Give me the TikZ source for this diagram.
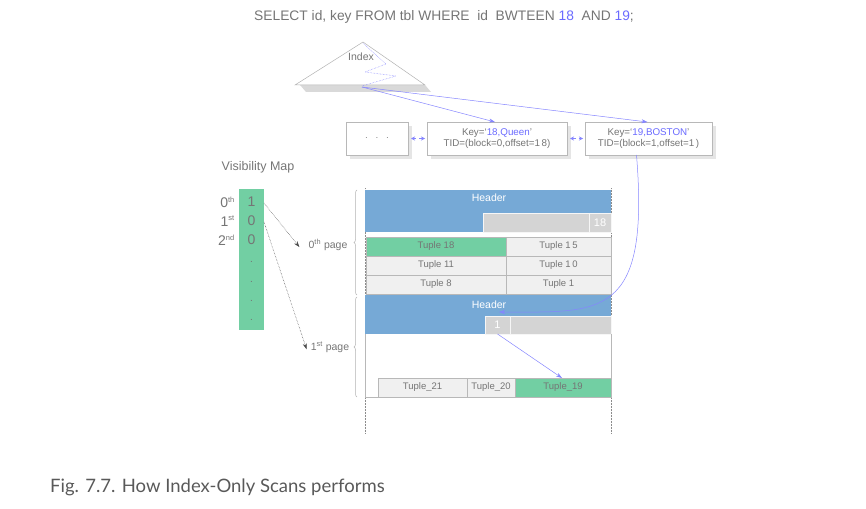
\documentclass[tikz,border=0pt]{standalone}
\usepackage{fontspec}
\setmainfont{Liberation Sans}
\newfontfamily\capfont{Lato}
\usetikzlibrary{arrows.meta,shadows,decorations.pathreplacing}
\definecolor{txt}{HTML}{757575}
\definecolor{bl}{HTML}{6B6BFF}
\definecolor{hdr}{HTML}{76A9D6}
\definecolor{grn}{HTML}{72CFA3}
\definecolor{lg}{HTML}{D4D4D4}
\definecolor{tp}{HTML}{F0F0F0}
\definecolor{bd}{HTML}{B8B8B8}
\definecolor{arr}{HTML}{8585FF}
\begin{document}
\begin{tikzpicture}[x=1pt,y=-1pt,
  rect/.style={inner sep=0pt, outer sep=0pt, anchor=north west},
  keybox/.style={rect, draw=bd, fill=white, align=center, text=txt,
    font=\fontsize{9.8}{11.5}\selectfont,
    general shadow={fill=black!10, shadow xshift=4pt, shadow yshift=-4pt}},
  hdrbox/.style={rect, fill=hdr},
  graybar/.style={rect, fill=lg, draw=white!80!lg, text=white, font=\fontsize{11}{12}\selectfont},
  tuple/.style={rect, fill=tp, draw=bd, text=txt, font=\fontsize{9.5}{11}\selectfont},
  tuplegr/.style={tuple, fill=grn},
  hdrtxt/.style={text=white, font=\fontsize{10.5}{12}\selectfont, inner sep=0pt},
  lbl/.style={text=txt, inner sep=0pt},
  blarrow/.style={draw=arr, line width=0.5pt, -{Stealth[length=6pt,width=4pt]}},
  dblarrow/.style={draw=arr, line width=0.6pt, dashed, {Stealth[length=4pt,width=4pt]}-{Stealth[length=4pt,width=4pt]}},
  dotarrow/.style={draw=black!70, line width=0.5pt, densely dotted, -{Stealth[length=6pt,width=4pt]}},
  pagebrace/.style={draw=black!30, line width=0.5pt, decorate, decoration={brace, amplitude=3pt}},
  edge/.style={draw=bd, line width=0.5pt},
  dotedge/.style={draw=black!45, line width=0.5pt, densely dotted}
]
\useasboundingbox (0,0) rectangle (866,508);

% title
\node[lbl, font=\fontsize{13.8}{15}\selectfont] (title) at (444,17)
  {SELECT id, key FROM tbl WHERE~~id~~BWTEEN \textcolor{bl}{18}~~AND \textcolor{bl}{19};};

% index triangle
\fill[black!15] (300,85) -- (425,85) -- (431,92) -- (306,92) -- cycle;
\draw[black!30, fill=white, line width=0.5pt] (295,85) -- (363,42) -- (425,85) -- cycle;
\node[lbl, font=\fontsize{10.5}{12}\selectfont] (idx) at (361,57) {Index};
\draw[arr, densely dotted, line width=0.5pt] (363,43) -- (386,64) -- (365,72) -- (396,76) -- (362,86);
\coordinate (ibase) at (362,87);

% key boxes
\node[keybox, minimum width=62, minimum height=33] (dots) at (346,122) {$\cdot\ \ \cdot\ \ \cdot$};
\node[keybox, minimum width=140, minimum height=33] (k18) at (427,122)
  {Key=`\textcolor{bl}{18,Queen}'\\TID=(block=0,offset=1\,8)};
\node[keybox, minimum width=127, minimum height=33] (k19) at (585,122)
  {Key=`\textcolor{bl}{19,BOSTON}'\\TID=(block=1,offset=1\,)};

\draw[blarrow] (ibase) -- ([xshift=-2pt]k18.north);
\draw[blarrow] (ibase) -- ([xshift=-1pt]k19.north);
\draw[dblarrow] ([xshift=3pt]dots.east) -- ([xshift=-2pt]k18.west);
\draw[dblarrow] ([xshift=3pt]k18.east) -- ([xshift=-2pt]k19.west);

% visibility map
\node[lbl, font=\fontsize{12.5}{14}\selectfont] (vmt) at (258,167) {Visibility Map};
\node[rect, fill=grn, minimum width=25, minimum height=141] (vm) at (239,189) {};
\foreach \v/\y [count=\i] in {1/202,0/221,0/240} {
  \node[lbl, font=\fontsize{14}{15}\selectfont] (v\i) at (251.5,\y) {\v};
}
\foreach \y [count=\i] in {262,282,301,320} {
  \node[lbl, font=\fontsize{10}{12}\selectfont] (d\i) at (251.5,\y) {.};
}
\node[lbl, anchor=east, font=\fontsize{14}{15}\selectfont] (o0) at (235,202) {0\textsuperscript{\fontsize{7.5}{8}\selectfont th}};
\node[lbl, anchor=east, font=\fontsize{14}{15}\selectfont] (o1) at (235,221) {1\textsuperscript{\fontsize{7.5}{8}\selectfont st}};
\node[lbl, anchor=east, font=\fontsize{14}{15}\selectfont] (o2) at (235,240) {2\textsuperscript{\fontsize{7.5}{8}\selectfont nd}};

\node[lbl, font=\fontsize{10.5}{12}\selectfont] (p0lab) at (328,245) {0\textsuperscript{th} page};
\node[lbl, font=\fontsize{10.5}{12}\selectfont] (p1lab) at (330,347) {1\textsuperscript{st} page};
\coordinate (vm1) at (264,203);
\coordinate (vm2) at (264,222);
\draw[dotarrow] (vm1) -- ([xshift=-9pt,yshift=-8pt]p0lab.north west);
\draw[dotarrow] (vm2) -- ([xshift=-4pt,yshift=-8pt]p1lab.north west);

% braces
\draw[pagebrace] (357,295) -- (357,190);
\draw[pagebrace] (357,397) -- (357,297);

% page borders (dotted)
\draw[dotedge] (365,188) -- (365,433);
\draw[dotedge] (611,188) -- (611,433);

% page 0
\node[hdrbox, minimum width=246, minimum height=42] (h0) at (365,190) {};
\node[hdrtxt] (h0t) at (489,198) {Header};
\node[graybar, minimum width=106, minimum height=19] (b0) at (483,213) {};
\node[graybar, minimum width=22, minimum height=19] (c0) at (589,213) {18};
\node[tuplegr, minimum width=140, minimum height=19] (t18) at (366,237) {Tuple 18};
\node[tuple, minimum width=105, minimum height=19] (t15) at (506,237) {Tuple 1\,5};
\node[tuple, minimum width=140, minimum height=19] (t11) at (366,256) {Tuple 11};
\node[tuple, minimum width=105, minimum height=19] (t10) at (506,256) {Tuple 1\,0};
\node[tuple, minimum width=140, minimum height=19] (t8) at (366,275) {Tuple 8};
\node[tuple, minimum width=105, minimum height=19] (t1) at (506,275) {Tuple 1};

% page 1
\node[hdrbox, minimum width=246, minimum height=39] (h1) at (365,295) {};
\node[hdrtxt] (h1t) at (489,305) {Header};
\node[graybar, minimum width=25, minimum height=18] (c1) at (485,316) {1};
\node[graybar, minimum width=101, minimum height=18] (b1) at (510,316) {};
\draw[edge] (h1.south west) -- (365,397) -- (378,397);
\draw[edge] (h1.south east) -- (611,378);
\node[tuple, minimum width=89, minimum height=19] (t21) at (378,378) {Tuple\_21};
\node[tuple, minimum width=48, minimum height=19] (t20) at (467,378) {Tuple\_20};
\node[tuplegr, minimum width=96, minimum height=19] (t19) at (515,378) {Tuple\_19};

% pointers
\coordinate (h1in) at (499,312);
\draw[blarrow] ([xshift=-12pt]k19.south) .. controls (650,320) and (600,312) .. (h1in);
\draw[blarrow] (c1.south) -- ([xshift=-1pt]t19.north);

% caption
\node[anchor=west, inner sep=0pt, text=black!65, font=\capfont\fontsize{18.5}{20}\selectfont] (cap) at (50,487)
  {Fig. 7.7. How Index-Only Scans performs};
\end{tikzpicture}
\end{document}
